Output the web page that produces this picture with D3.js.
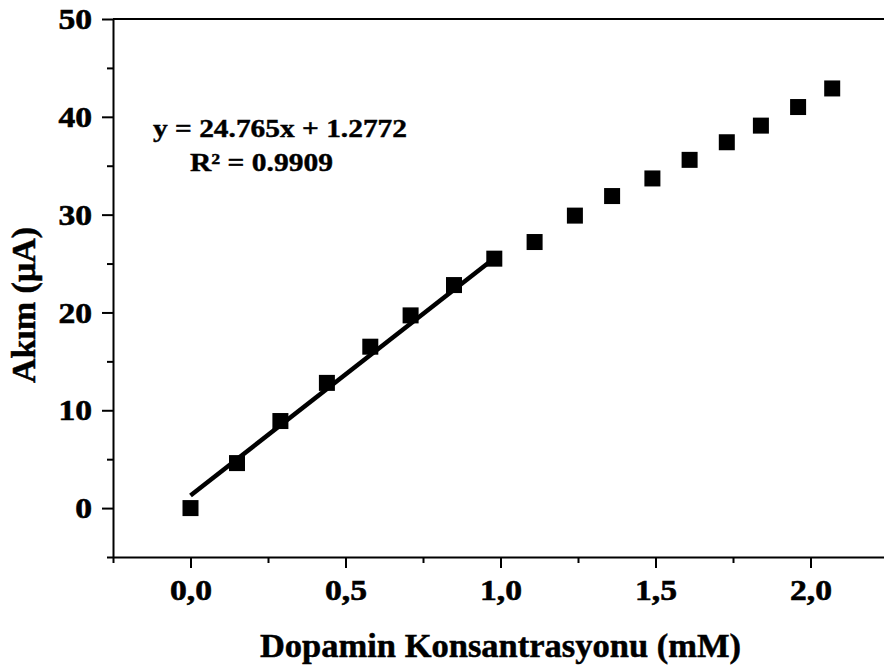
<!DOCTYPE html>
<html>
<head>
<meta charset="utf-8">
<script src="https://cdn.jsdelivr.net/npm/d3@7/dist/d3.min.js"></script>
<style>
  html, body { margin: 0; padding: 0; background: #fff; overflow: hidden; }
  svg { display: block; }
  text { font-family: "Liberation Serif", "Times New Roman", serif; font-weight: bold; fill: #000; }
</style>
</head>
<body>
<svg id="chart" width="884" height="668"></svg>
<script>
// Dopamine concentration (mM) and measured current (µA)
const concentration = [0, 0.15, 0.29, 0.44, 0.58, 0.71, 0.85, 0.98, 1.11, 1.24, 1.36, 1.49, 1.61, 1.73, 1.84, 1.96, 2.07];
const current = [0, 4.6, 8.9, 12.8, 16.5, 19.7, 22.8, 25.5, 27.2, 29.9, 31.9, 33.7, 35.6, 37.4, 39.1, 41.0, 42.9];

// Linear fit over the low-concentration range
const fitSlope = 24.765;
const fitIntercept = 1.2772;
const fitR2 = 0.9909;
const fitRange = [0, 0.98];

const xTicks = [0, 0.5, 1.0, 1.5, 2.0];
const xTickLabels = ["0,0", "0,5", "1,0", "1,5", "2,0"];
const xMinorTicks = [-0.25, 0.25, 0.75, 1.25, 1.75, 2.25];
const yTicks = [0, 10, 20, 30, 40, 50];
const yMinorTicks = [-5, 5, 15, 25, 35, 45];

const svg = d3.select("#chart");
const plotLeft = 113, plotRight = 888, plotTop = 19, plotBottom = 557;

const x = d3.scaleLinear().domain([-0.25, 2.25]).range([plotLeft, plotRight]);
const y = d3.scaleLinear().domain([-5, 50]).range([plotBottom, plotTop]);

// frame (top and right edges)
svg.append("line").attr("x1", plotLeft).attr("x2", plotRight).attr("y1", plotTop).attr("y2", plotTop)
  .attr("stroke", "#000").attr("stroke-width", 2);
svg.append("line").attr("x1", plotRight).attr("x2", plotRight).attr("y1", plotTop).attr("y2", plotBottom)
  .attr("stroke", "#000").attr("stroke-width", 2);

// Y axis: major ticks with labels, minor ticks without
const yAxis = svg.append("g").attr("transform", `translate(${plotLeft},0)`)
  .call(d3.axisLeft(y).tickValues(yTicks).tickSize(11).tickSizeOuter(0).tickPadding(10).tickFormat(d3.format("d")));
svg.append("g").attr("transform", `translate(${plotLeft},0)`)
  .call(d3.axisLeft(y).tickValues(yMinorTicks).tickSize(6).tickFormat(""))
  .select(".domain").remove();

// X axis
const xAxis = svg.append("g").attr("transform", `translate(0,${plotBottom})`)
  .call(d3.axisBottom(x).tickValues(xTicks).tickSize(11).tickSizeOuter(0).tickPadding(11)
    .tickFormat((d, i) => xTickLabels[i]));
svg.append("g").attr("transform", `translate(0,${plotBottom})`)
  .call(d3.axisBottom(x).tickValues(xMinorTicks).tickSize(6).tickFormat(""))
  .select(".domain").remove();

svg.selectAll(".domain, .tick line").attr("stroke", "#000").attr("stroke-width", 2);

yAxis.selectAll(".tick text")
  .style("font-size", "30px").attr("fill", "#000")
  .attr("stroke", "#000").attr("stroke-width", 0.6)
  .attr("transform", function () {
    const tx = +d3.select(this).attr("x");
    return `translate(${tx},0) scale(1.12,1) translate(${-tx},0)`;
  });
xAxis.selectAll(".tick text")
  .style("font-size", "30px").attr("fill", "#000")
  .attr("stroke", "#000").attr("stroke-width", 0.6)
  .attr("transform", "scale(1.12,1)");

// Axis titles
svg.append("text")
  .attr("x", (plotLeft + plotRight) / 2).attr("y", 657)
  .attr("text-anchor", "middle")
  .attr("stroke", "#000").attr("stroke-width", 0.5)
  .style("font-size", "34.5px")
  .text("Dopamin Konsantrasyonu (mM)");

svg.append("text")
  .attr("transform", "translate(35,305) rotate(-90)")
  .attr("text-anchor", "middle")
  .attr("stroke", "#000").attr("stroke-width", 0.5)
  .style("font-size", "34px")
  .text("Akım (μA)");

// Fit line
const fitLine = d3.line().x(d => x(d)).y(d => y(fitSlope * d + fitIntercept));
svg.append("path")
  .datum(fitRange)
  .attr("d", fitLine)
  .attr("fill", "none")
  .attr("stroke", "#000")
  .attr("stroke-width", 4.5);

// Data markers
const size = 16;
svg.append("g").selectAll("rect")
  .data(concentration.map((c, i) => [c, current[i]]))
  .join("rect")
  .attr("x", d => x(d[0]) - size / 2)
  .attr("y", d => y(d[1]) - size / 2)
  .attr("width", size).attr("height", size)
  .attr("fill", "#000");

// Fit equation
const eq = svg.append("g").style("font-size", "24.5px")
  .attr("stroke", "#000").attr("stroke-width", 0.4);
eq.append("text").attr("x", 153).attr("y", 137)
  .attr("textLength", 254).attr("lengthAdjust", "spacingAndGlyphs")
  .text(`y = ${fitSlope}x + ${fitIntercept}`);
eq.append("text").attr("x", 190).attr("y", 171)
  .attr("textLength", 143).attr("lengthAdjust", "spacingAndGlyphs")
  .text(`R² = ${fitR2}`);
</script>
</body>
</html>
